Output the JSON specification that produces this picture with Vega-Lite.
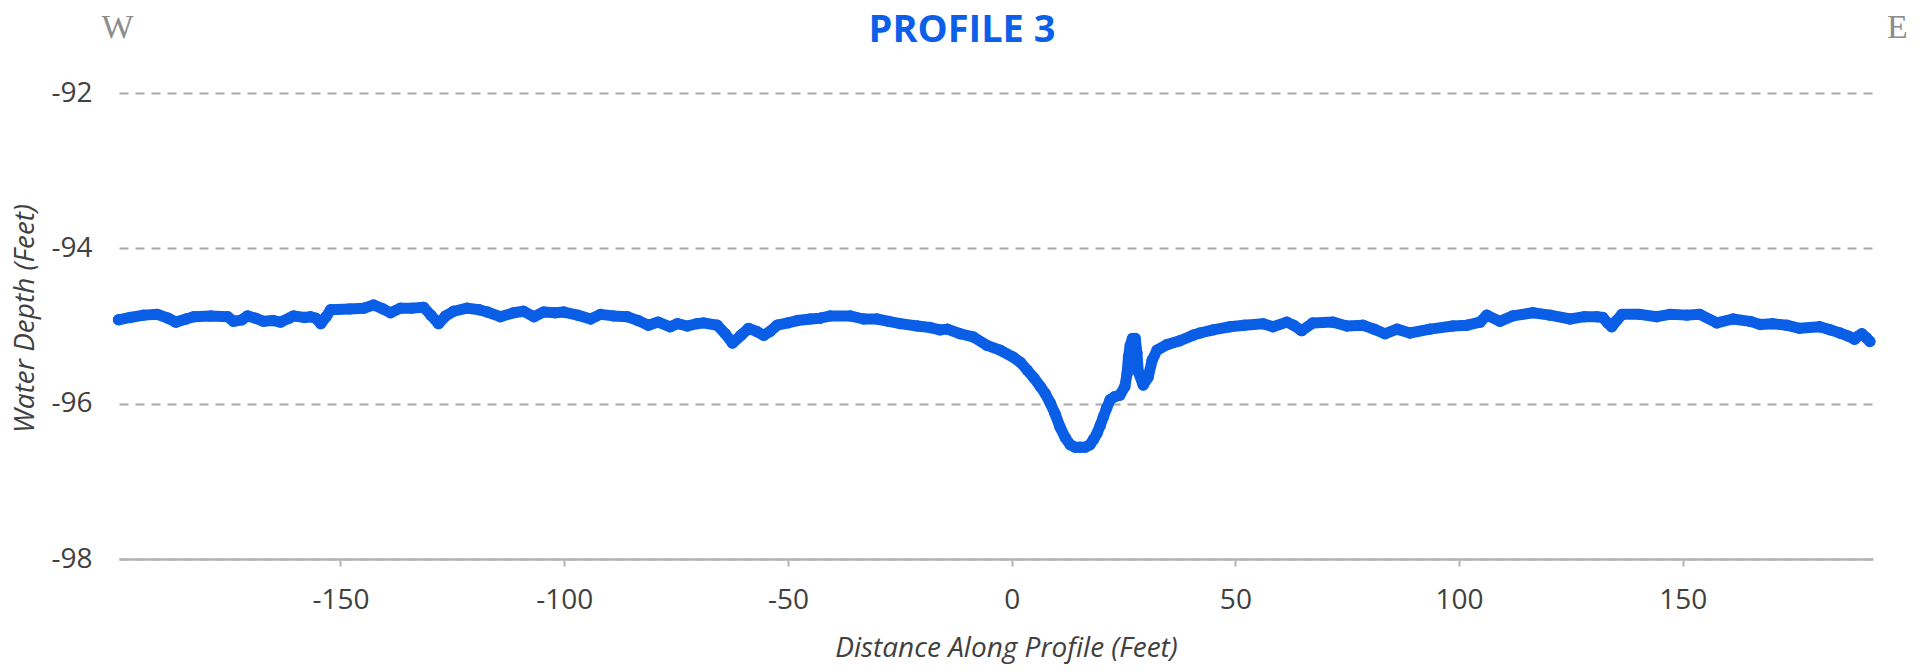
{
  "$schema": "https://vega.github.io/schema/vega-lite/v6.json",
  "autosize": {"type": "none"},
  "width": 1754,
  "height": 466,
  "padding": {"left": 119, "top": 93, "right": 54, "bottom": 112},
  "background": "white",
  "title": {
    "text": "PROFILE 3",
    "font": "Open Sans",
    "fontSize": 38,
    "fontWeight": 700,
    "color": "#0B5FE8",
    "anchor": "middle",
    "frame": "group",
    "baseline": "alphabetic",
    "offset": -70,
    "dx": -34
  },
  "config": {
    "view": {"stroke": null},
    "axis": {
      "labelFont": "Open Sans",
      "labelFontSize": 28,
      "labelColor": "#404040",
      "titleFont": "Open Sans",
      "titleFontSize": 28,
      "titleFontWeight": "normal",
      "titleFontStyle": "italic",
      "titleColor": "#404040"
    }
  },
  "data": {
    "values": [
      {"dist": -199.6, "depth": -94.92}, {"dist": -197, "depth": -94.89}, {"dist": -194, "depth": -94.86},
      {"dist": -190.9, "depth": -94.85}, {"dist": -188.5, "depth": -94.9}, {"dist": -186.8, "depth": -94.95},
      {"dist": -184.5, "depth": -94.91}, {"dist": -182.8, "depth": -94.88}, {"dist": -179, "depth": -94.87},
      {"dist": -175.2, "depth": -94.88}, {"dist": -173.9, "depth": -94.94}, {"dist": -172, "depth": -94.92},
      {"dist": -170.8, "depth": -94.87}, {"dist": -169, "depth": -94.9}, {"dist": -167.2, "depth": -94.94},
      {"dist": -165, "depth": -94.93}, {"dist": -163.4, "depth": -94.95}, {"dist": -161.5, "depth": -94.9},
      {"dist": -160.5, "depth": -94.87}, {"dist": -158, "depth": -94.89}, {"dist": -156.7, "depth": -94.88},
      {"dist": -155.5, "depth": -94.9}, {"dist": -154.4, "depth": -94.97}, {"dist": -153.2, "depth": -94.88},
      {"dist": -152.2, "depth": -94.79}, {"dist": -148, "depth": -94.78}, {"dist": -144.8, "depth": -94.77},
      {"dist": -142.6, "depth": -94.73}, {"dist": -140.5, "depth": -94.78}, {"dist": -138.8, "depth": -94.83},
      {"dist": -136.6, "depth": -94.77}, {"dist": -134, "depth": -94.77}, {"dist": -131.4, "depth": -94.76},
      {"dist": -129.8, "depth": -94.86}, {"dist": -128.1, "depth": -94.97}, {"dist": -126.5, "depth": -94.87},
      {"dist": -124.7, "depth": -94.81}, {"dist": -121.7, "depth": -94.77}, {"dist": -119, "depth": -94.79},
      {"dist": -117.2, "depth": -94.82}, {"dist": -114.3, "depth": -94.88}, {"dist": -111.3, "depth": -94.83},
      {"dist": -109.1, "depth": -94.81}, {"dist": -106.8, "depth": -94.88}, {"dist": -104.6, "depth": -94.82},
      {"dist": -102, "depth": -94.83}, {"dist": -100.1, "depth": -94.82}, {"dist": -97, "depth": -94.86},
      {"dist": -94.1, "depth": -94.91}, {"dist": -91.9, "depth": -94.85}, {"dist": -89, "depth": -94.87},
      {"dist": -85.9, "depth": -94.88}, {"dist": -83.5, "depth": -94.93}, {"dist": -81.2, "depth": -94.99},
      {"dist": -79, "depth": -94.95}, {"dist": -76.3, "depth": -95.01}, {"dist": -74.7, "depth": -94.97},
      {"dist": -72.5, "depth": -95.0}, {"dist": -70.3, "depth": -94.97}, {"dist": -68.9, "depth": -94.96},
      {"dist": -65.8, "depth": -94.99}, {"dist": -64, "depth": -95.1}, {"dist": -62.4, "depth": -95.22},
      {"dist": -60.5, "depth": -95.12}, {"dist": -58.8, "depth": -95.03}, {"dist": -57, "depth": -95.07},
      {"dist": -55.4, "depth": -95.12}, {"dist": -54, "depth": -95.07}, {"dist": -52.4, "depth": -94.99},
      {"dist": -50, "depth": -94.96}, {"dist": -47.9, "depth": -94.93}, {"dist": -45, "depth": -94.91},
      {"dist": -42.8, "depth": -94.9}, {"dist": -40.5, "depth": -94.87}, {"dist": -36.1, "depth": -94.87},
      {"dist": -33.1, "depth": -94.91}, {"dist": -30.1, "depth": -94.91}, {"dist": -27.5, "depth": -94.94},
      {"dist": -24.9, "depth": -94.97}, {"dist": -21.1, "depth": -95.0}, {"dist": -18.2, "depth": -95.02},
      {"dist": -16, "depth": -95.05}, {"dist": -14.4, "depth": -95.04}, {"dist": -11.5, "depth": -95.1},
      {"dist": -8.6, "depth": -95.14}, {"dist": -5.5, "depth": -95.25}, {"dist": -2.6, "depth": -95.31},
      {"dist": 0.3, "depth": -95.4}, {"dist": 2, "depth": -95.47}, {"dist": 3.5, "depth": -95.57},
      {"dist": 5, "depth": -95.67}, {"dist": 6.4, "depth": -95.78}, {"dist": 7.5, "depth": -95.87},
      {"dist": 8.6, "depth": -95.99}, {"dist": 9.7, "depth": -96.13}, {"dist": 10.8, "depth": -96.3},
      {"dist": 12, "depth": -96.44}, {"dist": 13.1, "depth": -96.53}, {"dist": 14.2, "depth": -96.56},
      {"dist": 15.3, "depth": -96.56}, {"dist": 16.4, "depth": -96.56}, {"dist": 17.5, "depth": -96.53},
      {"dist": 18.3, "depth": -96.46}, {"dist": 19.1, "depth": -96.38}, {"dist": 19.8, "depth": -96.28},
      {"dist": 20.5, "depth": -96.17}, {"dist": 21.2, "depth": -96.06}, {"dist": 22, "depth": -95.95},
      {"dist": 23, "depth": -95.91}, {"dist": 24.2, "depth": -95.89}, {"dist": 25.3, "depth": -95.78},
      {"dist": 25.8, "depth": -95.61}, {"dist": 26.1, "depth": -95.4}, {"dist": 26.5, "depth": -95.25},
      {"dist": 27, "depth": -95.16}, {"dist": 27.6, "depth": -95.16}, {"dist": 28, "depth": -95.35},
      {"dist": 28.3, "depth": -95.59}, {"dist": 29.4, "depth": -95.76}, {"dist": 30.5, "depth": -95.66},
      {"dist": 31.4, "depth": -95.44}, {"dist": 32.5, "depth": -95.31}, {"dist": 34.7, "depth": -95.24},
      {"dist": 37.6, "depth": -95.19}, {"dist": 40.5, "depth": -95.12}, {"dist": 42.1, "depth": -95.09},
      {"dist": 45, "depth": -95.05}, {"dist": 48.8, "depth": -95.01}, {"dist": 52, "depth": -94.99},
      {"dist": 56.2, "depth": -94.97}, {"dist": 58.4, "depth": -95.01}, {"dist": 61.5, "depth": -94.95},
      {"dist": 63, "depth": -94.99}, {"dist": 64.8, "depth": -95.06}, {"dist": 67.3, "depth": -94.96},
      {"dist": 71.8, "depth": -94.95}, {"dist": 74.9, "depth": -95.0}, {"dist": 78.5, "depth": -94.99},
      {"dist": 81, "depth": -95.04}, {"dist": 83.4, "depth": -95.1}, {"dist": 86.1, "depth": -95.04},
      {"dist": 89, "depth": -95.09}, {"dist": 93.5, "depth": -95.04}, {"dist": 98.6, "depth": -95.0},
      {"dist": 101.8, "depth": -94.99}, {"dist": 104.7, "depth": -94.95}, {"dist": 106.2, "depth": -94.86},
      {"dist": 109.1, "depth": -94.94}, {"dist": 112, "depth": -94.87}, {"dist": 116.5, "depth": -94.83},
      {"dist": 120.3, "depth": -94.86}, {"dist": 124.8, "depth": -94.91}, {"dist": 128, "depth": -94.88},
      {"dist": 130.8, "depth": -94.88}, {"dist": 132.1, "depth": -94.89}, {"dist": 133.2, "depth": -94.96},
      {"dist": 134.1, "depth": -95.01}, {"dist": 135.2, "depth": -94.93}, {"dist": 136.4, "depth": -94.85},
      {"dist": 140.4, "depth": -94.85}, {"dist": 144.2, "depth": -94.88}, {"dist": 147.1, "depth": -94.85},
      {"dist": 150.9, "depth": -94.86}, {"dist": 153.8, "depth": -94.85}, {"dist": 157.6, "depth": -94.96},
      {"dist": 161.2, "depth": -94.91}, {"dist": 165, "depth": -94.94}, {"dist": 167.3, "depth": -94.98},
      {"dist": 170, "depth": -94.97}, {"dist": 173.2, "depth": -94.99}, {"dist": 176.1, "depth": -95.03},
      {"dist": 180.6, "depth": -95.01}, {"dist": 183, "depth": -95.05}, {"dist": 185.1, "depth": -95.09},
      {"dist": 187, "depth": -95.13}, {"dist": 188.4, "depth": -95.17}, {"dist": 189.2, "depth": -95.13},
      {"dist": 190, "depth": -95.1}, {"dist": 191, "depth": -95.15}, {"dist": 191.8, "depth": -95.2}
    ]
  },
  "resolve": {"scale": {"x": "independent", "y": "independent"}, "axis": {"x": "independent", "y": "independent"}},
  "layer": [
    {
      "mark": {"type": "line", "color": "#0A5EE6", "strokeWidth": 11, "strokeCap": "round", "strokeJoin": "round", "point": {"filled": true, "size": 130, "color": "#0A5EE6", "opacity": 1}},
      "encoding": {
        "x": {
          "field": "dist", "type": "quantitative",
          "scale": {"domain": [-199.5, 192.5], "nice": false, "zero": false},
          "axis": {
            "orient": "bottom",
            "title": "Distance Along Profile (Feet)",
            "values": [-150, -100, -50, 0, 50, 100, 150],
            "labelExpr": "replace(datum.label, '\u2212', '-')",
            "grid": false,
            "domain": true, "domainColor": "#b4b4b4", "domainWidth": 2.5,
            "ticks": true, "tickColor": "#b4b4b4", "tickSize": 7, "tickWidth": 2,
            "labelPadding": 20,
            "titleY": 97, "titleBaseline": "alphabetic", "titleX": 887
          }
        },
        "y": {
          "field": "depth", "type": "quantitative",
          "scale": {"domain": [-98, -92], "nice": false, "zero": false},
          "axis": {
            "orient": "left",
            "title": "Water Depth (Feet)",
            "values": [-98, -96, -94, -92],
            "labelExpr": "replace(datum.label, '\u2212', '-')",
            "domain": false, "ticks": false,
            "labelPadding": 27,
            "grid": true, "gridColor": "#a8a8a8", "gridDash": [9, 7], "gridWidth": 2,
            "titleX": -86, "titleY": 225, "titleBaseline": "alphabetic", "titleAngle": -90
          }
        }
      }
    },
    {
      "mark": {"type": "point", "opacity": 0},
      "encoding": {
        "x": {
          "field": "dist", "type": "quantitative",
          "scale": {"domain": [-199.5, 192.5], "nice": false, "zero": false},
          "axis": {
            "orient": "top", "title": "W", "labels": false, "ticks": false, "domain": false, "grid": false,
            "titleFont": "Liberation Serif", "titleFontStyle": "normal", "titleFontSize": 34, "titleColor": "#8c8c8c",
            "titleX": -2, "titleY": -56, "titleAlign": "center", "titleBaseline": "alphabetic"
          }
        },
        "y": {
          "field": "depth", "type": "quantitative",
          "scale": {"domain": [-98, -92], "nice": false, "zero": false},
          "axis": {
            "orient": "right", "title": "E", "labels": false, "ticks": false, "domain": false, "grid": false,
            "titleFont": "Liberation Serif", "titleFontStyle": "normal", "titleFontSize": 34, "titleColor": "#8c8c8c",
            "titleAngle": 0, "titleX": 24, "titleY": -56, "titleAlign": "center", "titleBaseline": "alphabetic"
          }
        }
      }
    }
  ]
}
